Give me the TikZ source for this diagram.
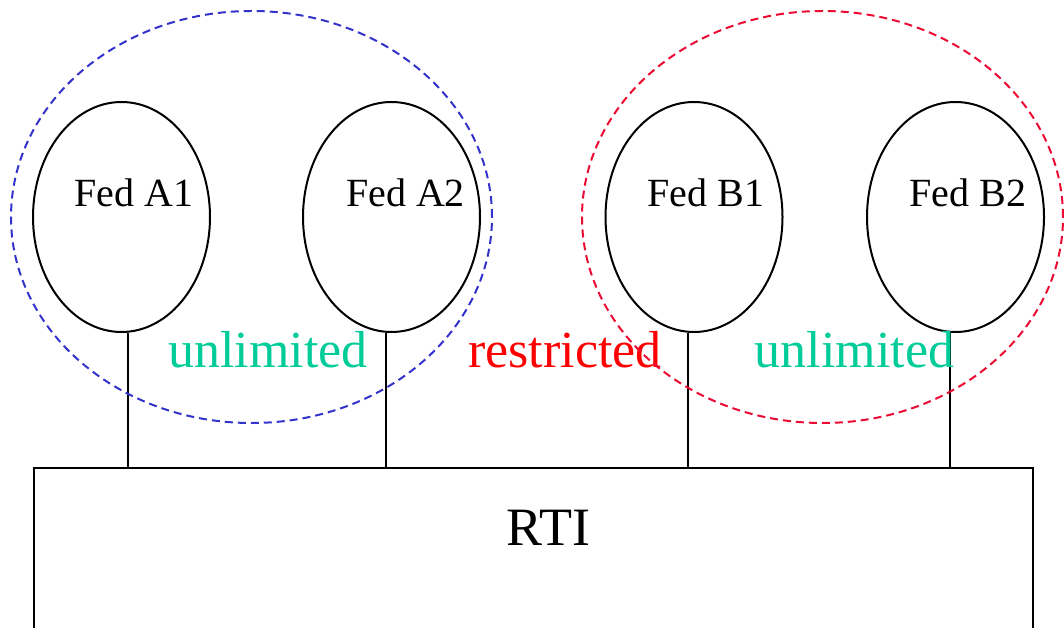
\documentclass[tikz,border=0pt]{standalone}
\usepackage{fontspec}
\setmainfont{Liberation Serif}
\usepackage{xcolor}
\usetikzlibrary{shapes.geometric,positioning}

\definecolor{grpblue}{RGB}{51,51,204}
\definecolor{grpred}{RGB}{235,10,50}
\definecolor{linkgreen}{RGB}{0,204,153}

\begin{document}
\begin{tikzpicture}[x=0.5pt, y=0.5pt,
        fed/.style={draw, ellipse, line width=1pt, minimum width=88.5pt, minimum height=115pt, inner sep=0pt},
        fedtext/.style={anchor=base, font=\fontsize{20}{24}\selectfont},
        group/.style={draw, ellipse, dash pattern=on 4pt off 2.5pt, line width=1pt, minimum width=240.5pt, minimum height=206pt, inner sep=0pt},
        link/.style={anchor=base, font=\fontsize{26}{30}\selectfont},
        rtibox/.style={draw, line width=1pt, minimum width=499.5pt, minimum height=109.5pt, inner sep=0pt},
        wire/.style={line width=1pt}
    ]
        \useasboundingbox (0,0) rectangle (1064,627);

        % federates
        \node[fed] (fa1) at (121.5,410) {};
        \node[fed] (fa2) at (391.5,410) {};
        \node[fed] (fb1) at (694,410) {};
        \node[fed] (fb2) at (955.5,410) {};

        \node[fedtext] (la1) at ([shift={(12.5,10)}]fa1.center) {Fed A1};
        \node[fedtext] (la2) at ([shift={(14,10)}]fa2.center) {Fed A2};
        \node[fedtext] (lb1) at ([shift={(12,10)}]fb1.center) {Fed B1};
        \node[fedtext] (lb2) at ([shift={(12.5,10)}]fb2.center) {Fed B2};

        % RTI
        \node[rtibox] (rti) at (533.5,49.5) {};
        \node[anchor=base, font=\fontsize{27}{32}\selectfont] (rtitext) at (548.5,82) {RTI};

        \draw[wire] ([xshift=3.25pt]fa1.south) -- ([xshift=3.25pt]fa1.south |- rti.north);
        \draw[wire] ([xshift=-2.75pt]fa2.south) -- ([xshift=-2.75pt]fa2.south |- rti.north);
        \draw[wire] ([xshift=-3pt]fb1.south) -- ([xshift=-3pt]fb1.south |- rti.north);
        \draw[wire] ([xshift=-2.75pt]fb2.south) -- ([xshift=-2.75pt]fb2.south |- rti.north);

        % link labels
        \node[link, text=linkgreen] (unlA) at (268,260) {unlimited};
        \node[link, text=red] (restr) at (565,260) {restricted};
        \node[link, text=linkgreen] (unlB) at (854.5,260) {unlimited};

        % federation groups
        \node[group, grpblue] (groupA) at (251.5,410) {};
        \node[group, grpred] (groupB) at (822.5,410) {};
    \end{tikzpicture}
\end{document}
